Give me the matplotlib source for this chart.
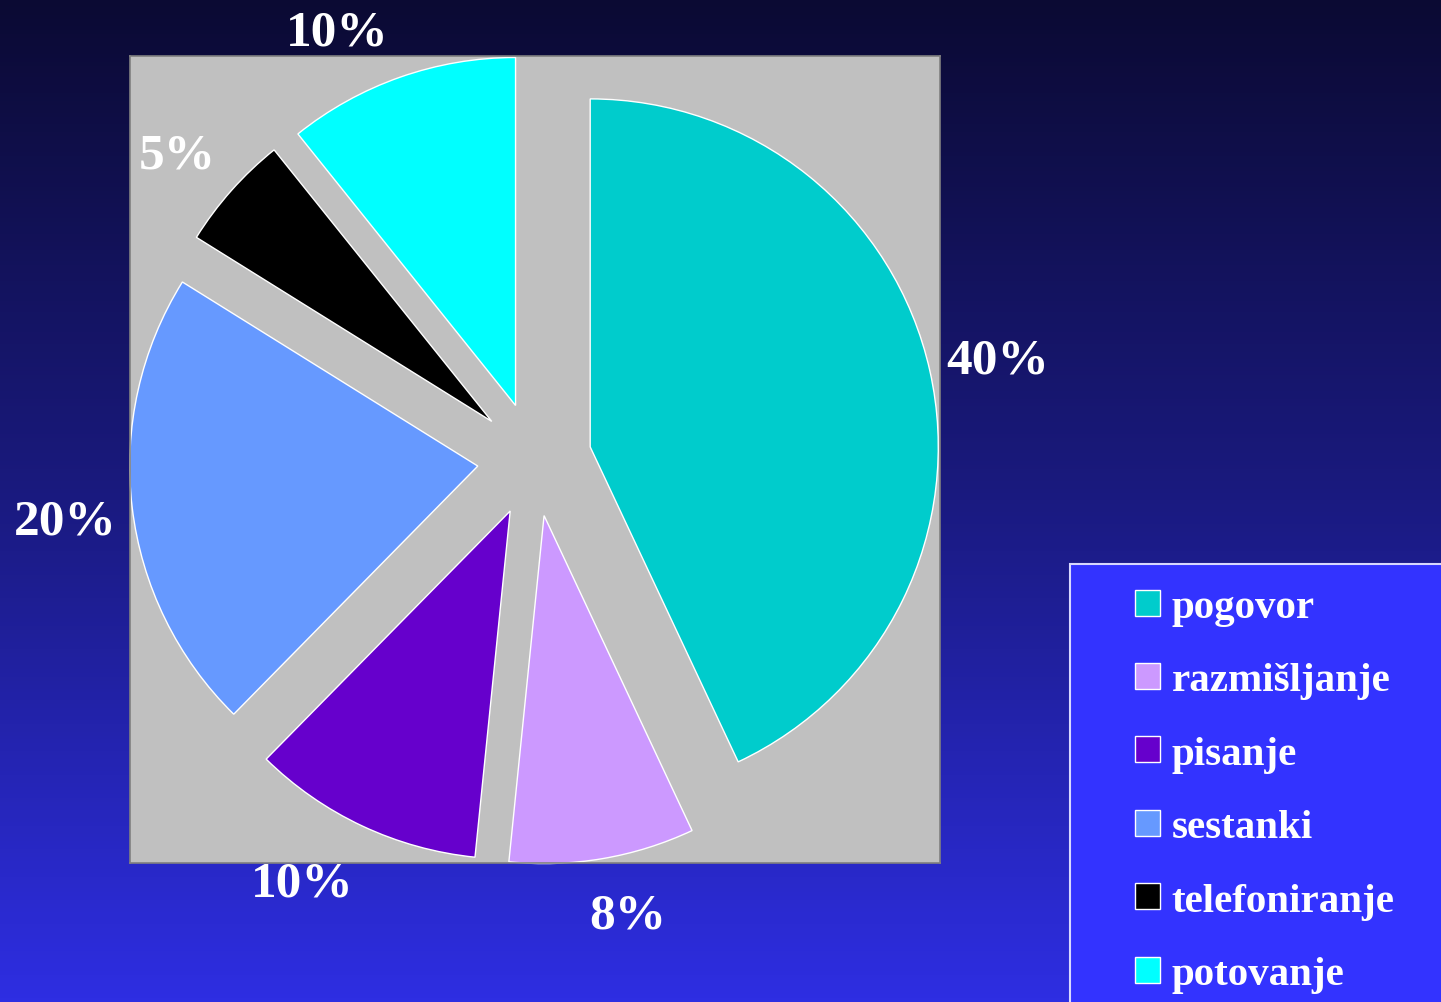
import matplotlib
matplotlib.use("Agg")
import matplotlib.pyplot as plt
import matplotlib.patches as mpatches
from matplotlib.colors import LinearSegmentedColormap
from matplotlib.transforms import offset_copy
import numpy as np

# ---------------------------------------------------------------- data

categories = ["pogovor", "razmišljanje", "pisanje", "sestanki", "telefoniranje", "potovanje"]
values = [40, 8, 10, 20, 5, 10]
colors = ["#00cccc", "#cc99ff", "#6600cc", "#6699ff", "#000000", "#00ffff"]
pct_labels = [f"{v}%" for v in values]

# small nudges of the % labels (pixels, +x right, +y up)
label_nudge = [(0, -5), (14, 12), (-30, 5), (2, -6), (-2, -11), (-40, -21)]

W, H = 1441, 1003
fig = plt.figure(figsize=(W / 100, H / 100), dpi=100)

# ---------------------------------------------------------------- background gradient

bg = fig.add_axes([0, 0, 1, 1], zorder=-10)
cmap = LinearSegmentedColormap.from_list("bg", ["#0b0a33", "#1a1a80", "#2e2ee2"])
grad = np.linspace(0, 1, 256).reshape(-1, 1)
bg.imshow(grad, cmap=cmap, aspect="auto", extent=[0, 1, 0, 1], origin="upper")
bg.axis("off")

# ---------------------------------------------------------------- pie

ax = fig.add_axes([130 / W, (H - 864) / H, 810 / W, 807 / H])

wedges, texts = ax.pie(values, colors=colors, labels=pct_labels,
                       explode=[0.164] * len(values), startangle=90,
                       counterclock=False, labeldistance=1.2, frame=True,
                       wedgeprops=dict(edgecolor="white", linewidth=1.0))
for t, (dx, dy) in zip(texts, label_nudge):
    t.set_ha("center"); t.set_va("center")
    t.set_fontfamily("Liberation Serif"); t.set_fontweight("bold")
    t.set_fontsize(37); t.set_color("white")
    t.set_transform(offset_copy(t.get_transform(), fig=fig, x=dx, y=dy, units="dots"))
    t.set_clip_on(False)

ax.set_facecolor("#c0c0c0")
for s in ax.spines.values():
    s.set_visible(True)
    s.set_color("#808080")
    s.set_linewidth(1.2)
ax.set_xticks([]); ax.set_yticks([])
ax.set_xlim(-1.162, 1.165)
ax.set_ylim(-1.160, 1.159)
ax.set_aspect("auto")

# ---------------------------------------------------------------- legend

box = mpatches.Rectangle((1070 / W, -0.01), 0.3, (H - 565) / H + 0.01,
                         transform=fig.transFigure, facecolor="#3333ff",
                         edgecolor="#d8d8ff", linewidth=1.5, zorder=1)
fig.add_artist(box)

handles = [mpatches.Patch(facecolor=c, edgecolor="white", linewidth=1.0) for c in colors]
leg = fig.legend(handles, categories, loc="upper left",
                 bbox_to_anchor=(1135 / W, 1 - 590 / H),
                 frameon=False, borderpad=0, borderaxespad=0,
                 handlelength=0.6, handleheight=0.6, handletextpad=0.3,
                 labelspacing=0.89,
                 prop=dict(family="Liberation Serif", weight="bold", size=29.5),
                 labelcolor="white")
leg.set_zorder(5)

fig.savefig("out.png", dpi=100)
